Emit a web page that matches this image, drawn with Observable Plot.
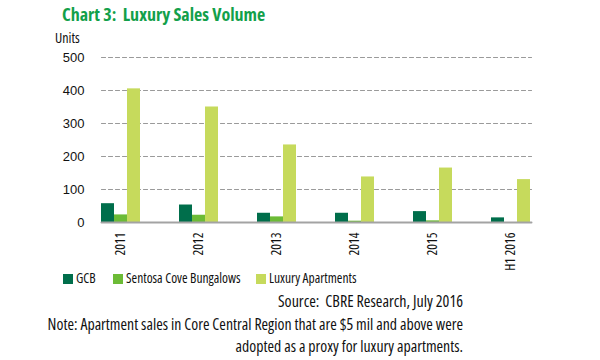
<!DOCTYPE html>
<html><head><meta charset="utf-8">
<script src="https://cdn.jsdelivr.net/npm/d3@7"></script>
<script src="https://cdn.jsdelivr.net/npm/@observablehq/plot@0.6"></script>
<style>
body{margin:0;background:#fff;font-family:"Open Sans",sans-serif;font-stretch:75%;color:#111;}
#wrap{position:relative;width:600px;height:360px;overflow:hidden;}
#title{position:absolute;left:62px;top:2px;font-size:18px;line-height:24px;font-weight:bold;color:#12a04a;white-space:pre;}
#units{position:absolute;left:55px;top:28px;font-size:14px;line-height:20px;}
#chart{position:absolute;left:0;top:24px;}
#chart svg text{font-stretch:75%;}
.lg{position:absolute;top:268px;font-size:13.5px;line-height:20px;white-space:nowrap;}
.sw{display:inline-block;width:10px;height:10px;margin-right:3px;vertical-align:-1px;}
#source{position:absolute;right:137px;top:290px;font-size:16px;line-height:22px;white-space:pre;}
#note{position:absolute;right:137px;top:313px;font-size:15.8px;text-align:right;line-height:22px;white-space:nowrap;}
</style></head>
<body>
<div id="wrap">
  <div id="title"></div>
  <div id="units">Units</div>
  <div id="chart"></div>
  <div id="legend"></div>
  <div id="source"></div>
  <div id="note"></div>
</div>
<script>
const titleText = "Chart 3:  Luxury Sales Volume";
const years = ["2011", "2012", "2013", "2014", "2015", "H1 2016"];
const series = ["GCB", "Sentosa Cove Bungalows", "Luxury Apartments"];
const gcb = [57, 53, 28, 28, 33, 14];
const sentosa = [23, 22, 17, 4, 5, 0];
const luxury = [405, 350, 235, 138, 165, 130];
const yTicks = [0, 100, 200, 300, 400, 500];
const colors = ["#006e4b", "#6cbb36", "#c6da5c"];
const sourceText = "Source:  CBRE Research, July 2016";
const noteLines = ["Note: Apartment sales in Core Central Region that are $5 mil and above were",
                   "adopted as a proxy for luxury apartments."];

const valuesBySeries = [gcb, sentosa, luxury];
const rows = [];
years.forEach((yr, i) => series.forEach((s, j) => rows.push({year: yr, series: s, value: valuesBySeries[j][i]})));

document.getElementById("title").textContent = titleText;
document.getElementById("source").textContent = sourceText;
const noteEl = document.getElementById("note");
noteLines.forEach((l, i) => { if (i) noteEl.appendChild(document.createElement("br")); noteEl.appendChild(document.createTextNode(l)); });

const legendLefts = [63, 113, 256];
const lg = document.getElementById("legend");
series.forEach((s, j) => {
  const d = document.createElement("div");
  d.className = "lg";
  d.style.left = legendLefts[j] + "px";
  const sw = document.createElement("span");
  sw.className = "sw";
  sw.style.background = colors[j];
  d.appendChild(sw);
  d.appendChild(document.createTextNode(s));
  lg.appendChild(d);
});

const W = 600, ML = 100, MR = 70;
const innerWidth = W - ML - MR;
// a straight horizontal line shape spanning the whole plot width (drawn once, from the left facet)
const lineShape = {draw(context, l) { context.moveTo(0, 0); context.lineTo(0, -l); }};

const chart = Plot.plot({
  width: W,
  height: 260,
  marginLeft: ML,
  marginRight: MR,
  marginTop: 33,
  marginBottom: 62,
  style: {background: "transparent"},
  fx: {domain: years, paddingInner: 0.5, paddingOuter: 0, label: null},
  x: {domain: series, padding: 0, axis: null},
  y: {domain: [0, 500], label: null},
  color: {domain: series, range: colors},
  marks: [
    Plot.vectorY(yTicks.slice(1), {y: d => d, frameAnchor: "left", facetAnchor: "left", anchor: "start",
                 length: innerWidth, rotate: 90, shape: lineShape,
                 stroke: "#9a9a9a", strokeWidth: 1.2, strokeDasharray: "4,3"}),
    Plot.barY(rows, {fx: "year", x: "series", y: "value", fill: "series"}),
    Plot.vectorY([0], {y: d => d, frameAnchor: "left", facetAnchor: "left", anchor: "start",
                 length: innerWidth, rotate: 90, shape: lineShape,
                 stroke: "#a3a3a3", strokeWidth: 2}),
    Plot.axisY({ticks: yTicks, tickSize: 0, tickPadding: 17, label: null, fontSize: 13,
                fontFamily: "Liberation Sans, Arial, sans-serif", fill: "#111"}),
    Plot.axisFx({anchor: "bottom", tickRotate: -90, tickSize: 0, tickPadding: 10, label: null,
                 fontSize: 13.5, fontFamily: "Open Sans, sans-serif", fill: "#111"})
  ]
});
document.getElementById("chart").appendChild(chart);
</script>
</body></html>
